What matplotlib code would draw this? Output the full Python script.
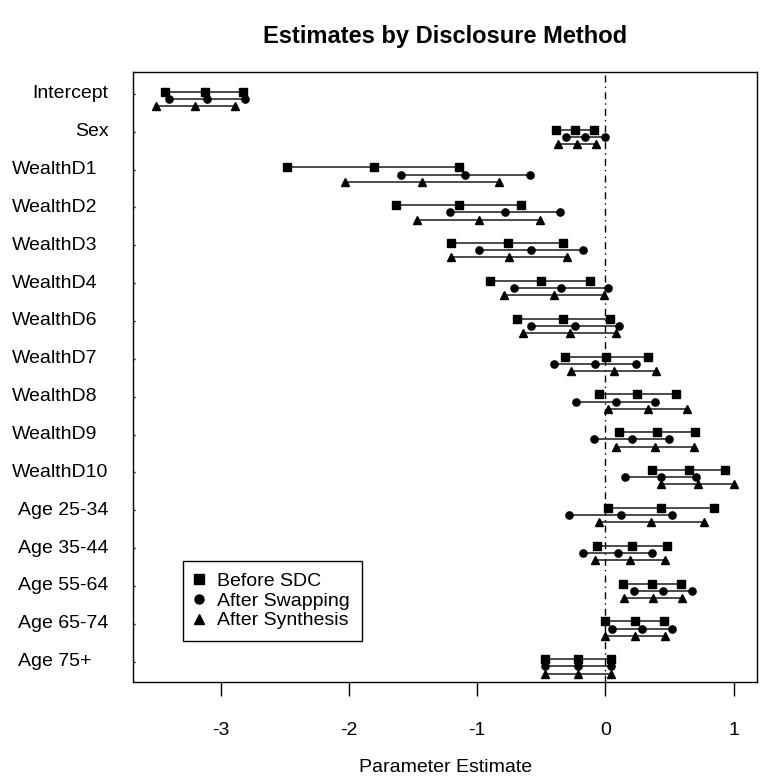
import matplotlib
matplotlib.use("Agg")
import matplotlib.pyplot as plt
from matplotlib.lines import Line2D
from matplotlib import transforms
import numpy as np

plt.rcParams['font.family'] = ['Liberation Sans', 'DejaVu Sans']
plt.rcParams['axes.unicode_minus'] = False

# 参数名
labels = ["Intercept", "Sex", "WealthD1", "WealthD2", "WealthD3", "WealthD4",
          "WealthD6", "WealthD7", "WealthD8", "WealthD9", "WealthD10",
          "Age 25-34", "Age 35-44", "Age 55-64", "Age 65-74", "Age 75+"]

# Before SDC
sdc_lo = [-3.433, -0.382, -2.481, -1.637, -1.201, -0.898, -0.688, -0.318,
          -0.054, 0.108, 0.366, 0.016, -0.067, 0.140, 0.000, -0.475]
sdc_est = [-3.127, -0.236, -1.809, -1.146, -0.764, -0.506, -0.328, 0.006,
           0.248, 0.404, 0.653, 0.430, 0.210, 0.360, 0.229, -0.217]
sdc_hi = [-2.831, -0.086, -1.140, -0.656, -0.328, -0.118, 0.032, 0.334,
          0.551, 0.701, 0.936, 0.844, 0.478, 0.586, 0.459, 0.041]

# After Swapping
swap_lo = [-3.404, -0.306, -1.596, -1.213, -0.990, -0.713, -0.583, -0.404,
           -0.226, -0.089, 0.150, -0.283, -0.175, 0.223, 0.054, -0.475]
swap_est = [-3.111, -0.159, -1.092, -0.783, -0.583, -0.347, -0.239, -0.083,
            0.080, 0.204, 0.430, 0.121, 0.096, 0.449, 0.287, -0.217]
swap_hi = [-2.815, -0.006, -0.589, -0.354, -0.178, 0.019, 0.102, 0.242,
           0.385, 0.497, 0.707, 0.522, 0.363, 0.675, 0.519, 0.041]

# After Synthesis
syn_lo = [-3.503, -0.373, -2.035, -1.471, -1.201, -0.793, -0.640, -0.268,
          0.019, 0.086, 0.436, -0.054, -0.080, 0.143, 0.000, -0.472]
syn_est = [-3.201, -0.223, -1.430, -0.990, -0.752, -0.401, -0.277, 0.064,
           0.331, 0.389, 0.720, 0.357, 0.194, 0.369, 0.232, -0.214]
syn_hi = [-2.889, -0.073, -0.828, -0.510, -0.303, -0.010, 0.086, 0.398,
          0.640, 0.691, 1.006, 0.768, 0.468, 0.599, 0.462, 0.044]

method_names = ["Before SDC", "After Swapping", "After Synthesis"]

fig = plt.figure(figsize=(7.6, 7.81), dpi=100)
ax = fig.add_axes([0.1754, 0.1268, 0.8213, 0.7810])

rows = np.arange(len(labels))
series = [
    (sdc_lo, sdc_est, sdc_hi, 's', 5.2, -0.06),
    (swap_lo, swap_est, swap_hi, 'o', 5.2, 0.13),
    (syn_lo, syn_est, syn_hi, '^', 6.0, 0.32),
]
for lo, est, hi, mk, ms, off in series:
    y = rows + off
    ax.hlines(y, lo, hi, colors='#1a1a1a', linewidth=1.1, zorder=2)
    for vals in (lo, est, hi):
        ax.plot(vals, y, linestyle='none', marker=mk, markersize=ms,
                color='black', zorder=3)

# 零线
ax.axvline(0, color='black', linewidth=1.0, linestyle=(0, (5, 3, 1, 3)), zorder=1)

ax.set_xlim(-3.683, 1.186)
ax.set_ylim(15.54, -0.58)
ax.set_xticks([-3, -2, -1, 0, 1])
ax.tick_params(axis='x', direction='out', length=10, width=1, pad=19, labelsize=14)
ax.set_yticks(rows)
ax.set_yticklabels([''] * len(labels))
ax.tick_params(axis='y', direction='in', length=1.5, width=1)
for s in ax.spines.values():
    s.set_linewidth(1.0)

# y轴标签 (对齐方式按原图)
tr = transforms.blended_transform_factory(fig.transFigure, ax.transData)
for i, lab in enumerate(labels):
    if lab in ("Intercept", "Sex"):
        ax.text(108.3 / 760, i, lab, transform=tr, ha='right', va='center', fontsize=14)
    elif lab.startswith("Wealth"):
        ax.text(12.3 / 760, i, lab, transform=tr, ha='left', va='center', fontsize=14)
    else:
        ax.text(18.3 / 760, i, lab, transform=tr, ha='left', va='center', fontsize=14)

ax.set_xlabel("Parameter Estimate", fontsize=14, labelpad=14)
fig.text(0.586, 1 - 43 / 781, "Estimates by Disclosure Method", ha='center',
         va='baseline', fontsize=17, fontweight='bold')

handles = [Line2D([], [], linestyle='none', marker=m, color='black', markersize=ms)
           for m, ms in [('s', 6.5), ('o', 6.5), ('^', 7.5)]]
ax.legend(handles, method_names, loc='lower left', bbox_to_anchor=(0.0791, 0.0672),
          borderaxespad=0, fontsize=14, frameon=True, fancybox=False,
          edgecolor='black', framealpha=1, handlelength=0.5, handletextpad=0.67,
          borderpad=0.6, labelspacing=0.1)
ax.get_legend().get_frame().set_linewidth(1.0)

plt.savefig("out.png", dpi=100)
